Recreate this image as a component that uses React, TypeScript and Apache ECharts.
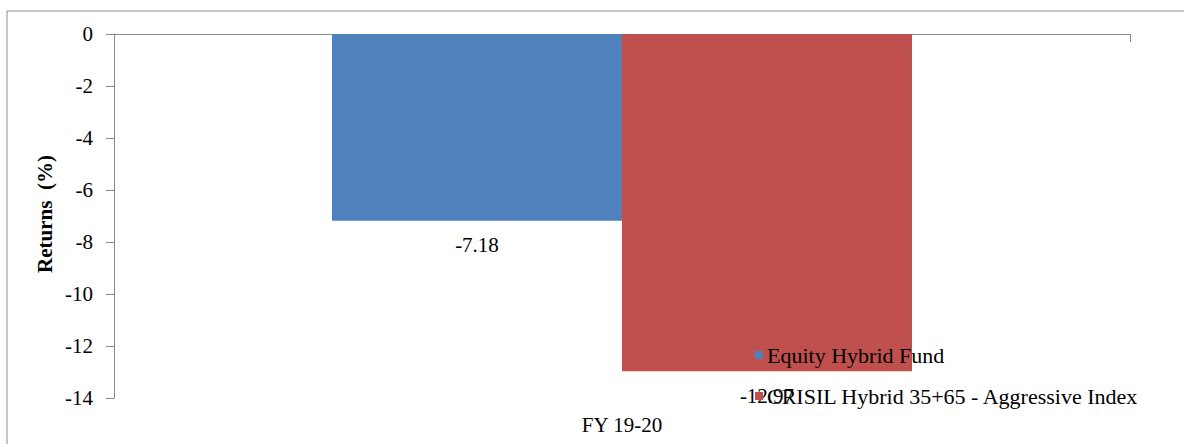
import React, { useEffect, useRef } from "react";
import * as echarts from "echarts";

const categories = ["FY 19-20"];
const seriesNames = ["Equity Hybrid Fund", "CRISIL Hybrid 35+65 - Aggressive Index"];
const fundValues = [-7.18];
const indexValues = [-12.97];
const yMin = -14;
const yMax = 0;
const yInterval = 2;

const FONT = "Liberation Serif, Times New Roman, serif";

export default function App() {
  const ref = useRef<HTMLDivElement>(null);
  useEffect(() => {
    if (!ref.current) return;
    const chart = echarts.init(ref.current, undefined, { renderer: "svg" });
    const labelStyle = {
      show: true,
      position: "bottom" as const,
      distance: 14,
      color: "#000",
      fontFamily: FONT,
      fontSize: 21,
    };
    chart.setOption({
      animation: false,
      backgroundColor: "#fff",
      textStyle: { fontFamily: FONT },
      grid: { left: 114, right: 54, top: 34, bottom: 46 },
      legend: {
        orient: "vertical",
        left: 755,
        top: 344,
        itemGap: 19,
        itemWidth: 8,
        itemHeight: 8,
        icon: "rect",
        padding: 0,
        textStyle: { fontFamily: FONT, fontSize: 22, color: "#000", padding: [0, 0, 0, -1] },
        data: seriesNames,
      },
      xAxis: [
        {
          type: "category",
          data: categories,
          position: "top",
          axisLine: { show: true, onZero: false, lineStyle: { color: "#8a8a8a", width: 1 } },
          axisTick: { show: true, inside: true, length: 8, lineStyle: { color: "#8a8a8a" } },
          axisLabel: { show: false },
          splitLine: { show: false },
        },
        {
          type: "category",
          data: categories,
          position: "bottom",
          axisLine: { show: false, onZero: false },
          axisTick: { show: false },
          axisLabel: { show: true, margin: 16, color: "#000", fontFamily: FONT, fontSize: 21 },
          splitLine: { show: false },
        },
      ],
      yAxis: {
        type: "value",
        min: yMin,
        max: yMax,
        interval: yInterval,
        axisLine: { show: true, lineStyle: { color: "#8a8a8a", width: 1 } },
        axisTick: { show: true, length: 8, lineStyle: { color: "#8a8a8a" } },
        axisLabel: { margin: 21, color: "#000", fontFamily: FONT, fontSize: 21 },
        splitLine: { show: false },
      },
      graphic: [
        {
          type: "rect",
          shape: { x: 7, y: 11, width: 1300, height: 600 },
          style: { fill: "none", stroke: "#8c8c8c", lineWidth: 1 },
          silent: true,
          z: -10,
        },
        {
          type: "text",
          x: 45,
          y: 214,
          rotation: Math.PI / 2,
          style: {
            text: "Returns  (%)",
            align: "center",
            verticalAlign: "middle",
            fontFamily: FONT,
            fontWeight: "bold",
            fontSize: 21,
            fill: "#000",
          },
        },
      ],
      series: [
        {
          name: seriesNames[0],
          type: "bar",
          xAxisIndex: 0,
          data: fundValues,
          barWidth: 290,
          barGap: "0%",
          itemStyle: { color: "#4F81BD" },
          label: labelStyle,
        },
        {
          name: seriesNames[1],
          type: "bar",
          xAxisIndex: 0,
          data: indexValues,
          barWidth: 290,
          barGap: "0%",
          itemStyle: { color: "#C0504D" },
          label: labelStyle,
        },
      ],
    });
    return () => chart.dispose();
  }, []);
  return (
    <div
      ref={ref}
      style={{ position: "fixed", left: 0, top: 0, width: 1184, height: 444 }}
    />
  );
}
